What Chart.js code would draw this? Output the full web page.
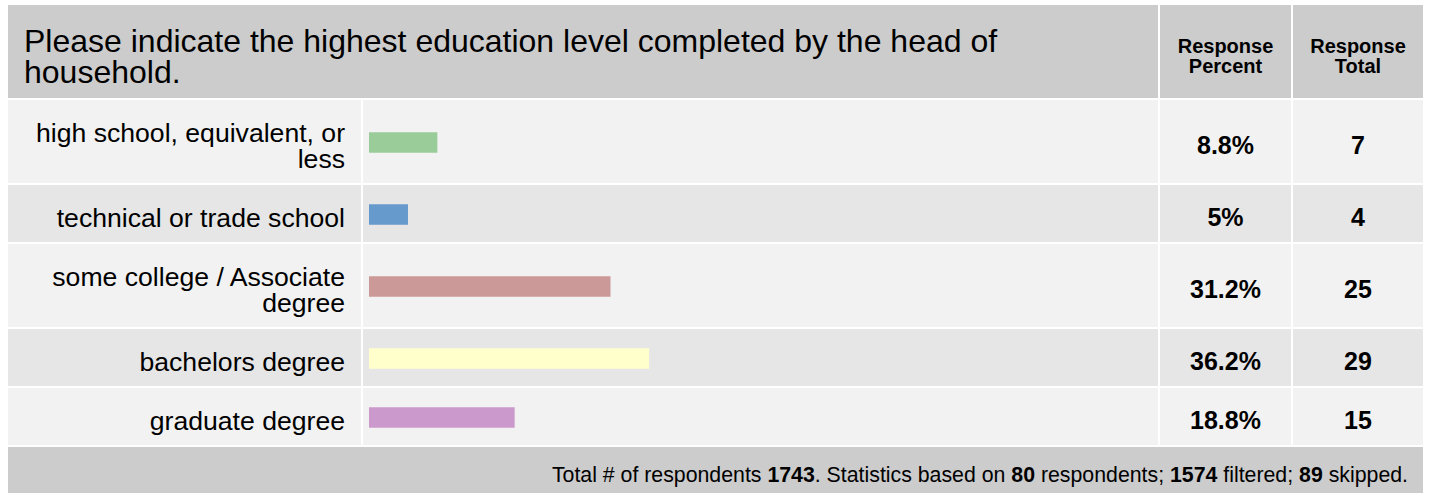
<!DOCTYPE html>
<html>
<head>
<meta charset="utf-8">
<script src="https://cdn.jsdelivr.net/npm/chart.js@4"></script>
<style>
    body { margin: 0; background: #fff; font-family: "Liberation Sans", Arial, sans-serif; color: #000; }
    #wrap { position: relative; width: 1429px; height: 493px; overflow: hidden; }
    table { position: absolute; left: 6px; top: 3px; border-collapse: separate; border-spacing: 2px; table-layout: fixed; }
    td { padding: 0; }
    tr.head { height: 93px; }
    .head td { background: #ccc; vertical-align: top; }
    .title { font-size: 32px; line-height: 31px; padding: 21px 150px 0 16px; }
    .colhead { font-size: 20px; font-weight: bold; line-height: 20px; text-align: center; padding-top: 31px; }
    .row td { vertical-align: middle; padding-top: 8px; }
    .row.odd td { background: #f2f2f2; }
    .row.even td { background: #e6e6e6; }
    .label { font-size: 26.6px; line-height: 26px; text-align: right; padding-right: 16px; }
    .num { font-size: 25px; font-weight: bold; text-align: center; }
    tr.foot { height: 50px; }
    .foot td { background: #ccc; font-size: 21.3px; line-height: 20px; text-align: right; padding: 18px 15px 0 0; vertical-align: top; }
    #bars { position: absolute; left: 363px; top: 100px; }
</style>
</head>
<body>
<div id="wrap">
    <table id="grid">
        <colgroup><col style="width:353px"><col style="width:795px"><col style="width:131px"><col style="width:130px"></colgroup>
        <tr class="head">
            <td class="title" colspan="2">Please indicate the highest education level completed by the head of household.</td>
            <td class="colhead">Response<br>Percent</td>
            <td class="colhead">Response<br>Total</td>
        </tr>
        <tr class="foot"><td colspan="4" id="footer"></td></tr>
    </table>
    <canvas id="bars" width="795" height="346"></canvas>
</div>
<script>
const CATEGORIES = ['high school, equivalent, or less', 'technical or trade school', 'some college / Associate degree', 'bachelors degree', 'graduate degree'];
const PERCENTS = [8.8, 5, 31.2, 36.2, 18.8];
const TOTALS = [7, 4, 25, 29, 15];
const COLORS = ['#99cc99', '#6699cc', '#cc9999', '#ffffcc', '#cc99cc'];
// row heights: two-line labels get the taller row
const ROW_HEIGHTS = [83, 57, 83, 57, 57];
const FOOTER = { total: 1743, based: 80, filtered: 1574, skipped: 89 };

function buildRows() {
    const GRID = document.getElementById('grid');
    const FOOT = GRID.querySelector('.foot');
    const rows = [];
    CATEGORIES.forEach((cat, i) => {
        const tr = document.createElement('tr');
        tr.className = 'row ' + (i % 2 === 0 ? 'odd' : 'even');
        tr.style.height = ROW_HEIGHTS[i] + 'px';
        tr.innerHTML = '<td class="label">' + cat.replace('equivalent, or less', 'equivalent, or<br>less').replace('Associate degree', 'Associate<br>degree') + '</td>' +
            '<td></td><td class="num">' + PERCENTS[i] + '%</td><td class="num">' + TOTALS[i] + '</td>';
        GRID.tBodies[0].insertBefore(tr, FOOT);
        rows.push(tr);
    });
    document.getElementById('footer').innerHTML = 'Total # of respondents <b>' + FOOTER.total +
        '</b>. Statistics based on <b>' + FOOTER.based + '</b> respondents; <b>' + FOOTER.filtered +
        '</b> filtered; <b>' + FOOTER.skipped + '</b> skipped.';
    return rows;
}

function rowCenters(rows) {
    const TOP = document.getElementById('bars').getBoundingClientRect().top;
    return rows.map(tr => {
        const r = tr.getBoundingClientRect();
        return r.top - TOP + r.height / 2 + 1;
    });
}

function createChart(centers) {
    const CTX = document.getElementById('bars').getContext('2d');
    return new Chart(CTX, {
        type: 'bar',
        data: {
            datasets: [{
                data: PERCENTS.map((p, i) => ({ x: p, y: centers[i] })),
                backgroundColor: COLORS,
                borderWidth: 0,
                barThickness: 20
            }]
        },
        options: {
            indexAxis: 'y',
            responsive: false,
            animation: false,
            layout: { padding: { left: 6, right: 16, top: 0, bottom: 0 } },
            scales: {
                x: { type: 'linear', min: 0, max: 100, display: false },
                y: { type: 'linear', min: 0, max: 346, reverse: true, offset: false, display: false }
            },
            plugins: { legend: { display: false }, tooltip: { enabled: false } }
        }
    });
}

const ROWS = buildRows();
createChart(rowCenters(ROWS));
</script>
</body>
</html>
